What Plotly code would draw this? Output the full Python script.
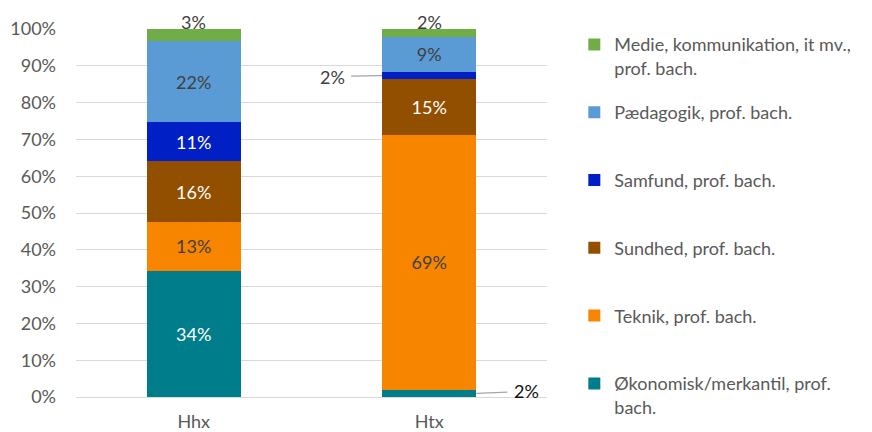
import plotly.graph_objects as go

categories = ["Hhx", "Htx"]
series_names = [
    "Økonomisk/merkantil, prof.<br>bach.",
    "Teknik, prof. bach.",
    "Sundhed, prof. bach.",
    "Samfund, prof. bach.",
    "Pædagogik, prof. bach.",
    "Medie, kommunikation, it mv.,<br>prof. bach.",
]
okonomisk = [34.2, 2.0]
teknik = [13.4, 69.1]
sundhed = [16.4, 15.2]
samfund = [10.6, 2.1]
paedagogik = [22.1, 9.4]
medie = [3.3, 2.2]
series_values = [okonomisk, teknik, sundhed, samfund, paedagogik, medie]
colors = ["#007D8A", "#F88500", "#924F00", "#0020C6", "#5B9BD5", "#70AD47"]
# which labels are drawn inside the bar and their colour
inside_color = [
    ["white", None],
    ["#404040", "#404040"],
    ["white", "white"],
    ["white", None],
    ["#404040", "#404040"],
    [None, None],
]
tick_vals = [0, 10, 20, 30, 40, 50, 60, 70, 80, 90, 100]
tick_text = ["0%", "10%", "20%", "30%", "40%", "50%", "60%", "70%", "80%", "90%", "100%"]

FONT = "Lato, 'Open Sans', sans-serif"
GRAY = "#595959"

fig = go.Figure()
n = len(series_names)
for i, (name, vals, col) in enumerate(zip(series_names, series_values, colors)):
    texts = [f"{round(v)}%" if inside_color[i][j] else "" for j, v in enumerate(vals)]
    tcols = [c if c else "white" for c in inside_color[i]]
    label = name if ("<br>" in name or i == 0) else name + "<br> "
    fig.add_trace(go.Bar(
        x=categories, y=vals, name=label, marker=dict(color=col, line=dict(width=0)),
        text=texts, textposition="inside", insidetextanchor="middle", textangle=0,
        textfont=dict(family=FONT, size=18, color=tcols),
        legendgroup=f"g{i}", legendrank=n - i, hoverinfo="skip", cliponaxis=False,
    ))

# top labels (Medie)
for j, cat in enumerate(categories):
    fig.add_annotation(x=cat, y=100, text=f"{round(medie[j])}%", showarrow=False,
                       yanchor="middle", yshift=7,
                       font=dict(family=FONT, size=18, color="#404040"))

# leader-line labels for Htx
base_samfund = okonomisk[1] + teknik[1] + sundhed[1]
fig.add_annotation(x=0.8, y=base_samfund + samfund[1] / 2, text=f"{round(samfund[1])}%",
                   showarrow=True, arrowhead=0, arrowwidth=1.2, arrowcolor="#A6A6A6",
                   ax=-50, ay=1, borderpad=6,
                   font=dict(family=FONT, size=18, color="#404040"))
fig.add_annotation(x=1.2, y=okonomisk[1] / 2, text=f"{round(okonomisk[1])}%",
                   showarrow=True, arrowhead=0, arrowwidth=1.2, arrowcolor="#A6A6A6",
                   ax=50, ay=-2, borderpad=6,
                   font=dict(family=FONT, size=18, color="#111111"))

fig.update_layout(
    barmode="stack", bargap=0.6,
    width=872, height=432,
    margin=dict(l=76, r=325, t=29, b=35, autoexpand=False),
    plot_bgcolor="white", paper_bgcolor="white",
    font=dict(family=FONT, size=18, color=GRAY),
    showlegend=True,
    legend=dict(
        x=1.058, xanchor="left", y=1.0076, yanchor="top",
        traceorder="grouped", tracegroupgap=18, valign="top",
        font=dict(family=FONT, size=18, color=GRAY),
        itemclick=False, maxheight=440,
    ),
)
fig.update_yaxes(range=[0, 100], tickvals=tick_vals, ticktext=tick_text,
                 showgrid=True, gridcolor="#D9D9D9", gridwidth=1.3,
                 zeroline=False, showline=False, ticks="", ticklabelstandoff=19,
                 automargin=False,
                 tickfont=dict(family=FONT, size=18, color=GRAY))
fig.update_xaxes(showline=True, linecolor="#D9D9D9", linewidth=1.3, ticks="",
                 ticklabelstandoff=8, automargin=False,
                 tickfont=dict(family=FONT, size=18, color=GRAY))

fig.write_html("out.html", config={"displayModeBar": False},
               post_script="document.body.style.margin='0';document.body.style.overflow='hidden';")
